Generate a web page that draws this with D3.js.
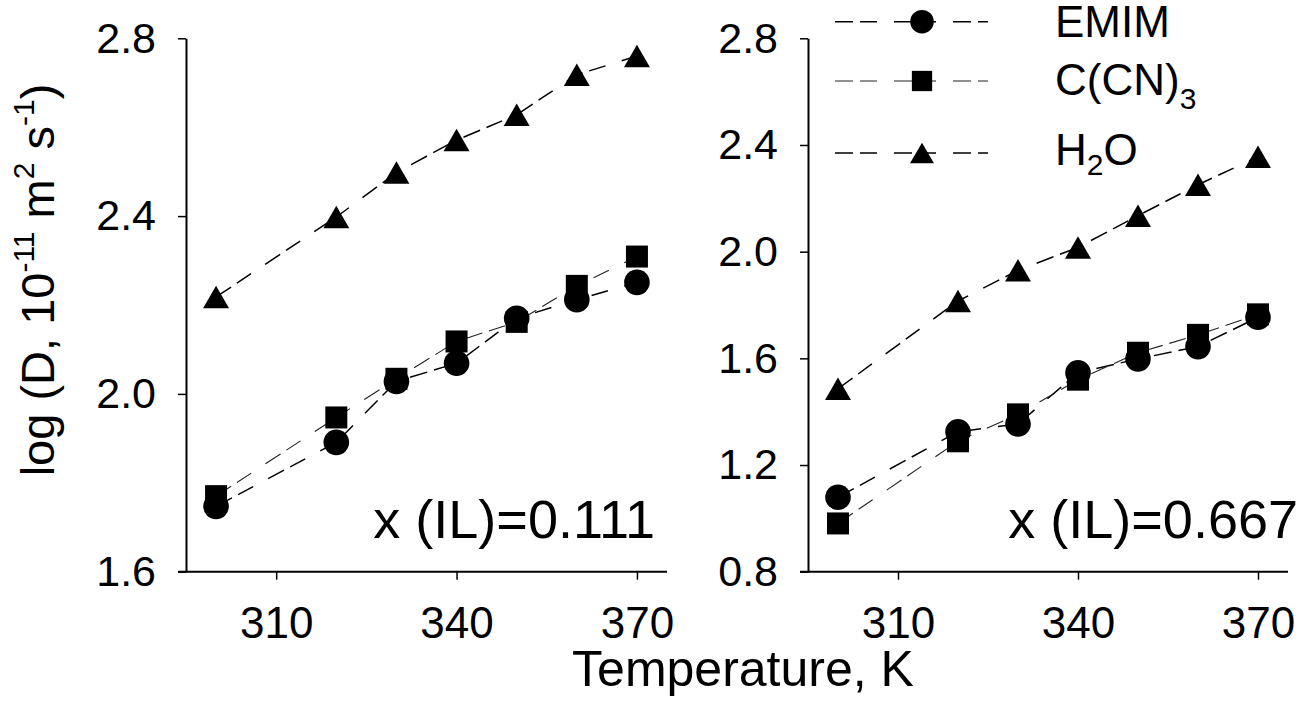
<!DOCTYPE html>
<html>
<head>
<meta charset="utf-8">
<script src="https://cdn.jsdelivr.net/npm/d3@7"></script>
<style>
  html, body { margin: 0; padding: 0; background: #fff; }
  svg { display: block; }
  text { font-family: "Liberation Sans", Arial, Helvetica, sans-serif; fill: #000; }
</style>
</head>
<body>
<svg id="chart" width="1304" height="722"></svg>
<script>
// ---------- data ----------
const temperatures = [300, 320, 330, 340, 350, 360, 370];
const xTickValues = [310, 340, 370];
const yTicksLeft = [1.6, 2.0, 2.4, 2.8];
const yTicksRight = [0.8, 1.2, 1.6, 2.0, 2.4, 2.8];
const seriesNames = ["EMIM", "C(CN)3", "H2O"];

// x(IL) = 0.111
const emimLeft  = [1.747, 1.891, 2.028, 2.069, 2.170, 2.212, 2.251];
const ccnLeft   = [1.770, 1.947, 2.034, 2.118, 2.162, 2.243, 2.309];
const waterLeft = [2.218, 2.398, 2.498, 2.571, 2.628, 2.718, 2.760];

// x(IL) = 0.667
const emimRight  = [1.079, 1.325, 1.354, 1.546, 1.598, 1.644, 1.754];
const ccnRight   = [0.981, 1.289, 1.390, 1.520, 1.621, 1.688, 1.765];
const waterRight = [1.486, 1.815, 1.930, 2.016, 2.135, 2.251, 2.356];

const panelLabels = ["x (IL)=0.111", "x (IL)=0.667"];

// ---------- drawing ----------
const svg = d3.select("#chart");
const FONT = '"Liberation Sans", Arial, Helvetica, sans-serif';

const triangleBox = {
  draw(ctx, size) {
    const s = Math.sqrt(size / (Math.sqrt(3) / 4));
    const h = s * Math.sqrt(3) / 2;
    ctx.moveTo(0, -h / 2);
    ctx.lineTo(s / 2, h / 2);
    ctx.lineTo(-s / 2, h / 2);
    ctx.closePath();
  }
};
const symbolTypes = [d3.symbolCircle, d3.symbolSquare, triangleBox];
const symbolSizes = [515, 484, 292];
const lineWidths = [1.5, 1.1, 1.5];
const lineColors = ["#000", "#222", "#000"];
const dashPattern = "18,7,17,17";

const panels = [
  { left: 186, right: 667, yDomain: [1.6, 2.8], yTicks: yTicksLeft,
    series: [emimLeft, ccnLeft, waterLeft], label: panelLabels[0], labelX: 655 },
  { left: 808, right: 1288, yDomain: [0.8, 2.8], yTicks: yTicksRight,
    series: [emimRight, ccnRight, waterRight], label: panelLabels[1], labelX: 1298 }
];
const plotTop = 38.3, plotBottom = 571.7;

panels.forEach((p, pi) => {
  const x = d3.scaleLinear().domain([295, 375]).range([p.left, p.right]);
  const y = d3.scaleLinear().domain(p.yDomain).range([plotBottom, plotTop]);
  const g = svg.append("g");

  // lines
  p.series.forEach((vals, si) => {
    const pts = temperatures.map((t, i) => [t, vals[i]]);
    g.append("path")
      .attr("d", d3.line().x(d => x(d[0])).y(d => y(d[1]))(pts))
      .attr("fill", "none")
      .attr("stroke", lineColors[si])
      .attr("stroke-width", lineWidths[si])
      .attr("stroke-dasharray", dashPattern);
  });
  // markers
  p.series.forEach((vals, si) => {
    g.selectAll(null).data(temperatures.map((t, i) => [t, vals[i]]))
      .enter().append("path")
      .attr("transform", d => `translate(${x(d[0])},${y(d[1])})`)
      .attr("d", d3.symbol().type(symbolTypes[si]).size(symbolSizes[si]))
      .attr("fill", "#000");
  });

  // y axis
  const yAxis = g.append("g")
    .attr("transform", `translate(${p.left},0)`)
    .call(d3.axisLeft(y).tickValues(p.yTicks).tickFormat(d3.format(".1f"))
      .tickSize(8).tickPadding(22).tickSizeOuter(0));
  yAxis.select(".domain").attr("stroke-width", 2);
  yAxis.selectAll(".tick line").attr("stroke-width", 1.5);
  yAxis.selectAll("text").attr("font-size", 43).attr("font-family", FONT);

  // x axis
  const xAxis = g.append("g")
    .attr("transform", `translate(0,${plotBottom})`)
    .call(d3.axisBottom(x).tickValues(xTickValues).tickFormat(d3.format("d"))
      .tickSize(8).tickPadding(27).tickSizeOuter(0));
  xAxis.select(".domain").remove();
  xAxis.append("line")
    .attr("x1", x(295) - 8).attr("x2", x(375))
    .attr("stroke", "#000").attr("stroke-width", 2);
  xAxis.selectAll(".tick line").attr("stroke-width", 1.5);
  xAxis.selectAll("text").attr("font-size", 44).attr("font-family", FONT);

  // panel label
  g.append("text")
    .attr("x", p.labelX).attr("y", 538)
    .attr("text-anchor", "end")
    .attr("font-size", 54)
    .text(p.label);
});

// legend
const legend = svg.append("g");
const legendRows = [21.7, 81, 153];
const legendTextBase = [37, 95, 165];
const lx1 = 835, lx2 = 988, lmx = 922, ltx = 1055;
seriesNames.forEach((name, si) => {
  legend.append("line")
    .attr("x1", lx1).attr("x2", lx2)
    .attr("y1", legendRows[si]).attr("y2", legendRows[si])
    .attr("stroke", lineColors[si])
    .attr("stroke-width", lineWidths[si])
    .attr("stroke-dasharray", dashPattern);
  legend.append("path")
    .attr("transform", `translate(${lmx},${legendRows[si]})`)
    .attr("d", d3.symbol().type(symbolTypes[si]).size(symbolSizes[si] * 0.85))
    .attr("fill", "#000");
  const t = legend.append("text")
    .attr("x", ltx).attr("y", legendTextBase[si])
    .attr("font-size", 44);
  if (name === "C(CN)3") {
    t.append("tspan").text("C(CN)");
    t.append("tspan").attr("font-size", 30).attr("dy", 14).text("3");
  } else if (name === "H2O") {
    t.append("tspan").text("H");
    t.append("tspan").attr("font-size", 30).attr("dy", 10).text("2");
    t.append("tspan").attr("dy", -10).text("O");
  } else {
    t.text(name);
  }
});

// y axis title
const yt = svg.append("text")
  .attr("transform", "translate(54,280) rotate(-90)")
  .attr("text-anchor", "middle")
  .attr("font-size", 47);
yt.append("tspan").text("log (D, 10");
yt.append("tspan").attr("font-size", 30).attr("dy", -20).text("-11");
yt.append("tspan").attr("dy", 20).text(" m");
yt.append("tspan").attr("font-size", 30).attr("dy", -20).text("2");
yt.append("tspan").attr("dy", 20).text(" s");
yt.append("tspan").attr("font-size", 30).attr("dy", -20).text("-1");
yt.append("tspan").attr("dy", 20).text(")");

// x axis title
svg.append("text")
  .attr("x", 743).attr("y", 686)
  .attr("text-anchor", "middle")
  .attr("font-size", 50)
  .text("Temperature, K");
</script>
</body>
</html>
